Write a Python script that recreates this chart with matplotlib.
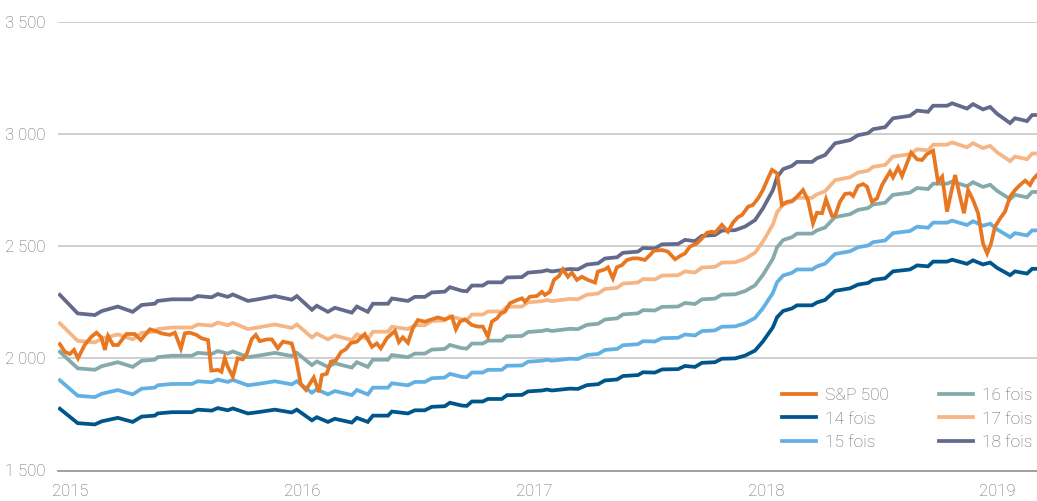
import matplotlib
matplotlib.use("Agg")
import matplotlib.pyplot as plt
from matplotlib.ticker import FuncFormatter, FixedLocator

plt.rcParams['font.family'] = ['Roboto', 'DejaVu Sans']
plt.rcParams['font.weight'] = 'light'

# ---- Data ----
# Forward EPS underlying the P/E bands (band value = multiple x EPS)
eps_dates = [2014.956, 2015.033, 2015.107, 2015.137, 2015.206, 2015.270, 2015.309, 2015.365,
             2015.378, 2015.439, 2015.525, 2015.551, 2015.611, 2015.637, 2015.680, 2015.702,
             2015.767, 2015.810, 2015.883, 2015.956, 2015.978, 2016.043, 2016.064, 2016.112,
             2016.142, 2016.215, 2016.237, 2016.284, 2016.306, 2016.371, 2016.388, 2016.457,
             2016.487, 2016.530, 2016.560, 2016.616, 2016.638, 2016.690, 2016.711, 2016.733,
             2016.780, 2016.802, 2016.862, 2016.884, 2016.949, 2016.975, 2017.035, 2017.057,
             2017.078, 2017.104, 2017.156, 2017.190, 2017.229, 2017.277, 2017.307, 2017.359,
             2017.384, 2017.449, 2017.471, 2017.522, 2017.553, 2017.622, 2017.652, 2017.695,
             2017.725, 2017.781, 2017.811, 2017.868, 2017.911, 2017.954, 2017.988, 2018.031,
             2018.049, 2018.075, 2018.113, 2018.135, 2018.200, 2018.221, 2018.256, 2018.299,
             2018.364, 2018.398, 2018.441, 2018.463, 2018.515, 2018.549, 2018.622, 2018.653,
             2018.700, 2018.722, 2018.782, 2018.804, 2018.868, 2018.894, 2018.937, 2018.968,
             2018.998, 2019.054, 2019.075, 2019.127, 2019.149, 2019.170]
forward_eps = [126.8, 122.2, 121.8, 122.8, 123.9, 122.6, 124.3, 124.6,
               125.3, 125.7, 125.7, 126.5, 126.2, 127.0, 126.3, 126.9,
               125.3, 125.7, 126.5, 125.6, 126.5, 123.1, 124.1, 122.6,
               123.6, 122.4, 123.9, 122.6, 124.6, 124.6, 125.9, 125.3,
               126.3, 126.3, 127.4, 127.6, 128.7, 127.8, 127.7, 129.1,
               129.1, 129.9, 129.9, 131.1, 131.2, 132.3, 132.6, 132.9,
               132.6, 132.8, 133.2, 133.1, 134.3, 134.6, 135.8, 136.1,
               137.2, 137.5, 138.4, 138.3, 139.3, 139.4, 140.4, 140.1,
               141.4, 141.6, 142.7, 142.8, 143.7, 145.3, 148.2, 152.7,
               155.9, 157.9, 158.7, 159.7, 159.7, 160.6, 161.4, 164.3,
               165.1, 166.3, 166.8, 167.8, 168.3, 170.5, 171.1, 172.4,
               172.1, 173.6, 173.6, 174.2, 172.9, 174.0, 172.7, 173.3,
               171.6, 169.3, 170.5, 169.8, 171.3, 171.3]
multiples = [14, 15, 16, 17, 18]

spx_dates = [2014.956, 2014.977, 2014.999, 2015.017, 2015.034, 2015.063, 2015.092, 2015.114,
             2015.135, 2015.150, 2015.164, 2015.186, 2015.207, 2015.243, 2015.279, 2015.305,
             2015.344, 2015.365, 2015.394, 2015.430, 2015.452, 2015.478, 2015.495, 2015.516,
             2015.545, 2015.567, 2015.595, 2015.609, 2015.638, 2015.653, 2015.667, 2015.680,
             2015.702, 2015.723, 2015.745, 2015.762, 2015.784, 2015.801, 2015.818, 2015.849,
             2015.870, 2015.896, 2015.918, 2015.956, 2015.974, 2015.995, 2016.017, 2016.051,
             2016.073, 2016.086, 2016.107, 2016.125, 2016.146, 2016.168, 2016.189, 2016.211,
             2016.237, 2016.258, 2016.271, 2016.302, 2016.323, 2016.340, 2016.366, 2016.401,
             2016.418, 2016.435, 2016.457, 2016.478, 2016.500, 2016.530, 2016.560, 2016.586,
             2016.616, 2016.647, 2016.664, 2016.681, 2016.703, 2016.733, 2016.759, 2016.780,
             2016.802, 2016.819, 2016.841, 2016.858, 2016.875, 2016.897, 2016.927, 2016.949,
             2016.962, 2016.983, 2017.013, 2017.035, 2017.048, 2017.069, 2017.087, 2017.108,
             2017.125, 2017.147, 2017.164, 2017.186, 2017.207, 2017.233, 2017.264, 2017.276,
             2017.307, 2017.320, 2017.341, 2017.358, 2017.380, 2017.402, 2017.427, 2017.449,
             2017.479, 2017.501, 2017.518, 2017.553, 2017.578, 2017.609, 2017.630, 2017.652,
             2017.673, 2017.704, 2017.725, 2017.747, 2017.768, 2017.781, 2017.811, 2017.837,
             2017.859, 2017.880, 2017.898, 2017.924, 2017.945, 2017.967, 2017.988, 2018.010,
             2018.027, 2018.049, 2018.070, 2018.092, 2018.113, 2018.135, 2018.161, 2018.182,
             2018.204, 2018.221, 2018.243, 2018.260, 2018.286, 2018.299, 2018.320, 2018.342,
             2018.364, 2018.377, 2018.398, 2018.420, 2018.437, 2018.458, 2018.480, 2018.502,
             2018.523, 2018.536, 2018.549, 2018.571, 2018.588, 2018.609, 2018.627, 2018.653,
             2018.674, 2018.696, 2018.722, 2018.743, 2018.761, 2018.782, 2018.799, 2018.817,
             2018.838, 2018.855, 2018.873, 2018.894, 2018.916, 2018.937, 2018.955, 2018.972,
             2018.989, 2019.011, 2019.032, 2019.054, 2019.075, 2019.097, 2019.119, 2019.140,
             2019.153, 2019.170]
spx = [2063, 2029, 2019, 2037, 2000, 2059, 2096, 2114,
       2093, 2037, 2099, 2059, 2059, 2108, 2108, 2081,
       2129, 2123, 2111, 2104, 2114, 2044, 2111, 2114,
       2104, 2089, 2081, 1945, 1948, 1940, 2000, 1962,
       1918, 2000, 1995, 2020, 2086, 2104, 2076, 2084,
       2084, 2045, 2074, 2066, 2000, 1885, 1859, 1914,
       1849, 1925, 1931, 1985, 1990, 2027, 2040, 2068,
       2074, 2096, 2108, 2051, 2066, 2044, 2089, 2122,
       2072, 2093, 2069, 2133, 2170, 2163, 2173, 2182,
       2173, 2185, 2129, 2163, 2173, 2148, 2141, 2141,
       2096, 2163, 2178, 2200, 2207, 2245, 2259, 2267,
       2252, 2274, 2277, 2296, 2282, 2296, 2349, 2366,
       2396, 2363, 2381, 2349, 2363, 2349, 2337, 2386,
       2396, 2405, 2356, 2405, 2415, 2438, 2445, 2445,
       2438, 2460, 2479, 2482, 2475, 2441, 2455, 2467,
       2497, 2512, 2534, 2559, 2564, 2559, 2594, 2564,
       2604, 2628, 2638, 2675, 2683, 2712, 2749, 2802,
       2839, 2824, 2683, 2697, 2700, 2720, 2749, 2705,
       2601, 2648, 2646, 2708, 2634, 2634, 2697, 2732,
       2735, 2723, 2767, 2776, 2764, 2697, 2712, 2772,
       2809, 2831, 2806, 2850, 2812, 2868, 2916, 2886,
       2883, 2910, 2924, 2786, 2809, 2653, 2735, 2816,
       2720, 2646, 2749, 2705, 2646, 2512, 2467, 2512,
       2586, 2623, 2653, 2720, 2749, 2772, 2791, 2772,
       2797, 2816]

year_ticks = [2015, 2016, 2017, 2018, 2019]
y_ticks = [1500, 2000, 2500, 3000, 3500]

band_labels = ["14 fois", "15 fois", "16 fois", "17 fois", "18 fois"]
band_colors = ["#00568A", "#63B0E3", "#84AAAC", "#F5B584", "#636A8C"]
spx_color = "#E87722"
text_color = "#666666"

# ---- Figure ----
fig = plt.figure(figsize=(10.37, 5.01), dpi=100)
ax = fig.add_axes([58 / 1037, 1 - 470.5 / 501, 1 - 58 / 1037, (470.5 - 21.5) / 501])

lines = {}
for m, lab, col in zip(multiples, band_labels, band_colors):
    vals = [m * e for e in forward_eps]
    ln, = ax.plot(eps_dates, vals, color=col, lw=2.7, label=lab,
                  solid_joinstyle='miter', zorder=2)
    lines[lab] = ln
ln_spx, = ax.plot(spx_dates, spx, color=spx_color, lw=2.7, label="S&P 500",
                  solid_joinstyle='miter', zorder=3)

ax.set_xlim(2014.948, 2019.170)
ax.set_ylim(1500, 3500)

ax.yaxis.set_major_locator(FixedLocator(y_ticks))
ax.yaxis.set_major_formatter(FuncFormatter(lambda v, p: f"{int(v):,}".replace(",", " ")))
ax.xaxis.set_major_locator(FixedLocator(year_ticks))
ax.xaxis.set_major_formatter(FuncFormatter(lambda v, p: f"{int(round(v))}"))

ax.grid(axis='y', color="#CCCCCC", lw=1.3, zorder=0)
ax.set_axisbelow(True)
for s in ["top", "right", "left"]:
    ax.spines[s].set_visible(False)
ax.spines["bottom"].set_color("#9A9A9A")
ax.spines["bottom"].set_linewidth(1.3)

ax.tick_params(axis='both', length=0, labelsize=12, labelcolor=text_color)
ax.tick_params(axis='y', pad=9)
ax.tick_params(axis='x', pad=10)

handles = [ln_spx, lines["14 fois"], lines["15 fois"],
           lines["16 fois"], lines["17 fois"], lines["18 fois"]]
leg = ax.legend(handles=handles, labels=[h.get_label() for h in handles],
                ncol=2, loc='lower right', bbox_to_anchor=(1.0, 0.0),
                bbox_transform=fig.transFigure, frameon=False,
                fontsize=12.5, handlelength=1.95, handletextpad=0.52,
                columnspacing=2.85, labelspacing=0.48, borderaxespad=0)
for t in leg.get_texts():
    t.set_color(text_color)
leg.set_bbox_to_anchor((1039 / 1037, 1 - 457 / 501), transform=fig.transFigure)

fig.savefig("out.png", dpi=100)
